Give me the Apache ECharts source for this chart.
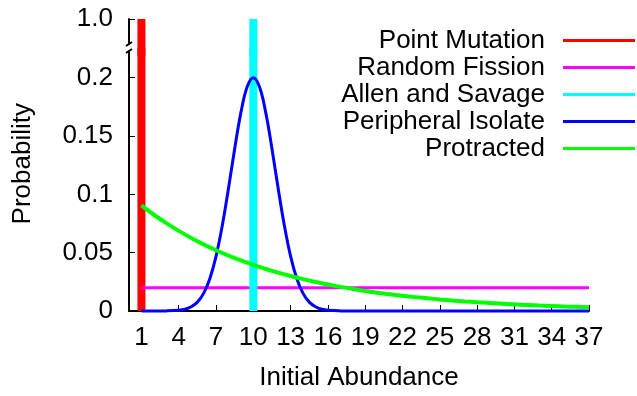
<!DOCTYPE html>
<html>
<head>
<meta charset="utf-8">
<script src="https://cdn.jsdelivr.net/npm/echarts@6/dist/echarts.min.js"></script>
<style>
  html, body { margin: 0; padding: 0; background: #fff; }
  #chart { width: 637px; height: 396px; }
</style>
</head>
<body>
<div id="chart"></div>
<script>
// initial abundance (x) and the distributions
const abundance = [1, 2, 3, 4, 5, 6, 7, 8, 9, 10, 11, 12, 13, 14, 15, 16, 17, 18, 19,
  20, 21, 22, 23, 24, 25, 26, 27, 28, 29, 30, 31, 32, 33, 34, 35, 36, 37];
const xTicks = [1, 4, 7, 10, 13, 16, 19, 22, 25, 28, 31, 34, 37];
const yTicksLow = [0, 0.05, 0.1, 0.15, 0.2];
const yTicksHigh = [1.0];

const pointMutationX = 1;
const pointMutationP = 1.0;
const allenSavageX = 10;
const allenSavageP = 1.0;
const randomFissionRange = [1, 37];
const randomFissionP = 0.02;
// peripheral isolate is sampled more finely around its peak
const peripheralX = [1, 2, 3, 4, 4.5, 5, 5.5, 6, 6.5, 7, 7.5, 8, 8.5, 9, 9.5, 10,
  10.5, 11, 11.5, 12, 12.5, 13, 13.5, 14, 14.5, 15, 15.5, 16, 17, 18, 37];
const peripheralIsolate = [0, 0, 0.0001, 0.0006, 0.0015, 0.0036, 0.0076, 0.0151, 0.0277, 0.0468, 0.073, 0.105, 0.139, 0.170, 0.192, 0.200,
  0.192, 0.170, 0.139, 0.105, 0.073, 0.0468, 0.0277, 0.0151, 0.0076, 0.0036, 0.0015, 0.0006, 0.0001, 0, 0];
const protracted = [0.0905, 0.0825, 0.0753, 0.0687, 0.0626, 0.0571, 0.0521, 0.0475, 0.0433, 0.0395,
  0.0360, 0.0329, 0.0300, 0.0273, 0.0249, 0.0227, 0.0207, 0.0189, 0.0172, 0.0157,
  0.0143, 0.0131, 0.0119, 0.0109, 0.0099, 0.0090, 0.0082, 0.0075, 0.0069, 0.0062,
  0.0057, 0.0052, 0.0047, 0.0043, 0.0039, 0.0036, 0.0033];

const FONT = "Liberation Sans";
const TXT = { fontFamily: FONT, fontSize: 26, color: "#000" };
const axisLine = { lineStyle: { color: "#000", width: 2 } };

const chart = echarts.init(document.getElementById("chart"), null, { renderer: "canvas" });

// vertical bars need a copy in each grid so they run across the axis break
function bar(name, color, x, p, gridIdx) {
  return {
    name, type: "line", xAxisIndex: gridIdx, yAxisIndex: gridIdx,
    data: [[x, 0], [x, p]], symbol: "none", silent: true,
    lineStyle: { color, width: 8 }, itemStyle: { color },
  };
}

function curve(name, color, width, data) {
  return {
    name, type: "line", xAxisIndex: 0, yAxisIndex: 0,
    data, symbol: "none", clip: false, smooth: 0.4,
    lineStyle: { color, width }, itemStyle: { color },
  };
}

chart.setOption({
  animation: false,
  textStyle: { fontFamily: FONT },
  grid: [
    { left: 129, right: 48, top: 52, bottom: 85 },
    { left: 129, right: 48, top: 19, height: 33 },
  ],
  xAxis: [
    {
      gridIndex: 0, type: "value", min: 0, max: 37,
      name: "Initial Abundance", nameLocation: "middle", nameGap: 54,
      nameTextStyle: TXT,
      axisLine,
      axisTick: { inside: true, length: 6, customValues: xTicks, lineStyle: { color: "#000", width: 1 } },
      axisLabel: Object.assign({ customValues: xTicks, margin: 14 }, TXT),
      splitLine: { show: false },
    },
    { gridIndex: 1, type: "value", min: 0, max: 37, show: false },
  ],
  yAxis: [
    {
      gridIndex: 0, type: "value", min: 0, max: 0.222,
      axisLine,
      axisTick: { inside: true, length: 6, customValues: yTicksLow, lineStyle: { color: "#000", width: 1 } },
      axisLabel: Object.assign({ customValues: yTicksLow, margin: 16 }, TXT),
      splitLine: { show: false },
    },
    {
      gridIndex: 1, type: "value", min: 0.9, max: 1.0,
      axisLine,
      axisTick: { inside: true, length: 6, customValues: yTicksHigh, lineStyle: { color: "#000", width: 1 } },
      axisLabel: Object.assign({ customValues: yTicksHigh, margin: 16, formatter: (v) => v.toFixed(1) }, TXT),
      splitLine: { show: false },
    },
  ],
  legend: {
    orient: "vertical", right: 2, top: 27, align: "right", padding: 0,
    itemGap: 0, itemWidth: 72, itemHeight: 3, icon: "rect",
    textStyle: Object.assign({ lineHeight: 27, padding: [0, 13, 0, 0] }, TXT),
    data: ["Point Mutation", "Random Fission", "Allen and Savage", "Peripheral Isolate", "Protracted"],
    selectedMode: false,
  },
  graphic: [
    { type: "text", left: 10, top: 165 - 62, rotation: Math.PI / 2,
      style: { text: "Probability", font: "26px " + FONT, fill: "#000" } },
    // axis break
    { type: "rect", shape: { x: 124, y: 44.5, width: 9, height: 6 }, style: { fill: "#fff" }, z: 100 },
    { type: "line", shape: { x1: 126, y1: 46, x2: 132, y2: 42 }, style: { stroke: "#000", lineWidth: 2 }, z: 101 },
    { type: "line", shape: { x1: 126, y1: 53, x2: 132, y2: 49 }, style: { stroke: "#000", lineWidth: 2 }, z: 101 },
  ],
  series: [
    bar("Point Mutation", "#ff0000", pointMutationX, pointMutationP, 0),
    bar("Point Mutation", "#ff0000", pointMutationX, pointMutationP, 1),
    {
      name: "Random Fission", type: "line", xAxisIndex: 0, yAxisIndex: 0,
      data: randomFissionRange.map((x) => [x, randomFissionP]), symbol: "none",
      lineStyle: { color: "#ff00ff", width: 3 }, itemStyle: { color: "#ff00ff" },
    },
    bar("Allen and Savage", "#00ffff", allenSavageX, allenSavageP, 0),
    bar("Allen and Savage", "#00ffff", allenSavageX, allenSavageP, 1),
    curve("Peripheral Isolate", "#0000ff", 3, peripheralX.map((x, i) => [x, peripheralIsolate[i]])),
    curve("Protracted", "#00ff00", 4, abundance.map((x, i) => [x, protracted[i]])),
  ],
});
</script>
</body>
</html>
